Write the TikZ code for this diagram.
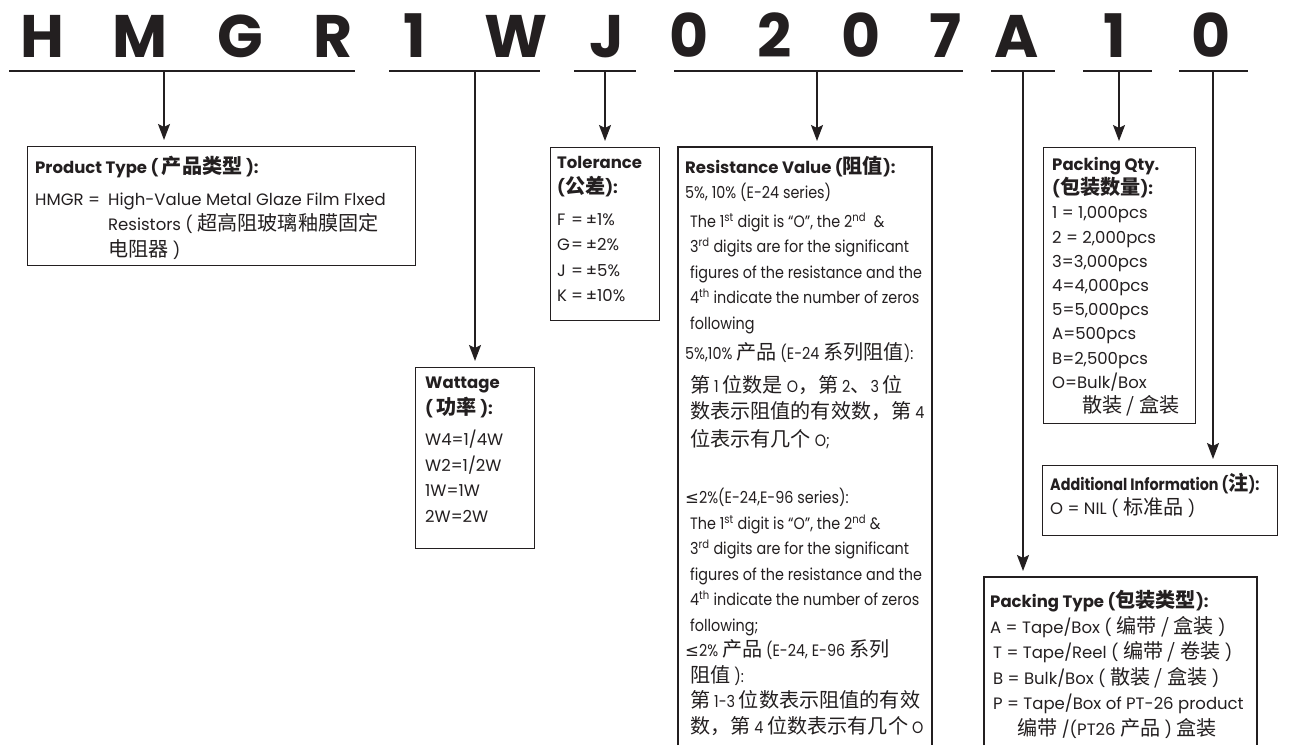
\documentclass[tikz,border=0pt]{standalone}
\usepackage{fontspec}
\usetikzlibrary{arrows.meta}
\setmainfont{Poppins}
\newfontfamily\narrow{Poppins}[FakeStretch=0.87]
\newfontfamily\cjk{Noto Sans CJK SC}[Scale=1.22]
\newfontfamily\sym{DejaVu Sans}
\definecolor{ink}{HTML}{231F20}
\newcommand{\zh}[1]{{\cjk #1}}
\newcommand{\sps}[1]{\textsuperscript{#1}}
\newcommand{\lbl}[1]{\makebox[14pt][l]{#1}}
\newcommand{\bodyfont}{\fontsize{16.5}{25.5}\selectfont}

\begin{document}
\begin{tikzpicture}[x=1pt,y=-1pt,
	code/.style={anchor=base,inner sep=0pt,text=ink,font=\fontsize{60}{60}\selectfont\bfseries},
	bar/.style={draw=ink,line width=2.2pt},
	lead/.style={draw=ink,line width=1.6pt,shorten >=6pt,-{Stealth[length=16pt,width=12pt,inset=3pt]}},
	infobox/.style={draw=ink,line width=1.2pt,anchor=north west,inner sep=0pt},
	txt/.style={anchor=north west,align=left,inner sep=0pt,text=ink,font=\bodyfont}]
			\fill[white] (0,0) rectangle (1289,745);
			\useasboundingbox (0,0) rectangle (1289,745);
			% part number
			\foreach \ch/\x [count=\i] in {H/42,M/140,G/240,R/333,1/415,W/516,J/607,0/689,2/775,0/861,7/946,A/1017,1/1115,0/1211}
				\node[code] (c\i) at (\x,57) {\ch};
			% underlines
			\draw[bar] (9,71) -- (355,71);
			\draw[bar] (389,71) -- (540,71);
			\draw[bar] (574,71) -- (636,71);
			\draw[bar] (674,71) -- (963,71);
			\draw[bar] (991,71) -- (1055,71);
			\draw[bar] (1083,71) -- (1152,71);
			\draw[bar] (1179,71) -- (1248,71);
			\coordinate (s1) at (164,71);
			\coordinate (s2) at (475,71);
			\coordinate (s3) at (605,71);
			\coordinate (s4) at (817,71);
			\coordinate (s5) at (1023,71);
			\coordinate (s6) at (1119,71);
			\coordinate (s7) at (1213,71);
			% product type
			\node[infobox,minimum width=388pt,minimum height=119pt] (prod) at (27,146) {};
			\node[txt] (prodtxt) at (35,156) {\textbf{Product Type ( \zh{产品类型} ):}\\[6pt]
				\makebox[73pt][l]{HMGR =}High-Value Metal Glaze Film Flxed\\
				\hspace*{73pt}Resistors ( \zh{超高阻玻璃釉膜固定}\\
				\hspace*{73pt}\zh{电阻器} )};
			\draw[lead] (s1) -- (s1 |- prod.north);
			% wattage
			\node[infobox,minimum width=119pt,minimum height=181pt] (watt) at (415,367) {};
			\node[txt] (watttxt) at (425,377) {\textbf{Wattage}\\ \textbf{( \zh{功率} ):}\\[6pt]
				W4=1/4W\\ W2=1/2W\\ 1W=1W\\ 2W=2W};
			\draw[lead] (s2) -- (s2 |- watt.north);
			% tolerance
			\node[infobox,minimum width=109pt,minimum height=173pt] (tol) at (550,147) {};
			\node[txt] (toltxt) at (557,156) {\textbf{Tolerance}\\ \textbf{(\zh{公差}):}\\[6pt]
				\lbl{F}=\,±1\%\\ \lbl{G}=\,±2\%\\ \lbl{J}=\,±5\%\\ \lbl{K}=\,±10\%};
			\draw[lead] (s3) -- (s3 |- tol.north);
			% resistance value (box runs off the page)
			\coordinate (res) at (678,147);
			\draw[ink,line width=1.2pt] (678,745) -- (res) -- (932,147) -- (932,745);
			\node[txt,font=\bodyfont\narrow] (restxt) at (685,156) {{\rmfamily\bfseries Resistance Value (\zh{阻值}):}\\
				5\%, 10\% (E-24 series)\\[3pt]
				\hspace*{5pt}The 1\sps{st} digit is “O”, the 2\sps{nd} \ \&\\
				\hspace*{5pt}3\sps{rd} digits are for the significant\\
				\hspace*{5pt}figures of the resistance and the\\
				\hspace*{5pt}4\sps{th} indicate the number of zeros\\
				\hspace*{5pt}following\\[5pt]
				5\%,10\% \zh{产品} (E-24 \zh{系列阻值}):\\[7pt]
				\hspace*{5pt}\zh{第} 1 \zh{位数是} O\zh{，第} 2\zh{、}3 \zh{位}\\[1pt]
				\hspace*{5pt}\zh{数表示阻值的有效数，第} 4\\[2pt]
				\hspace*{5pt}\zh{位表示有几个} O;\\[32pt]
				{\sym ≤}2\%(E-24,E-96 series):\\
				\hspace*{5pt}The 1\sps{st} digit is “O”, the 2\sps{nd} \&\\
				\hspace*{5pt}3\sps{rd} digits are for the significant\\
				\hspace*{5pt}figures of the resistance and the\\
				\hspace*{5pt}4\sps{th} indicate the number of zeros\\
				\hspace*{5pt}following;\\
				{\sym ≤}2\% \zh{产品} (E-24, E-96 \zh{系列}\\
				\hspace*{5pt}\zh{阻值} ):\\
				\hspace*{5pt}\zh{第} 1-3 \zh{位数表示阻值的有效}\\
				\hspace*{5pt}\zh{数，第} 4 \zh{位数表示有几个} O};
			\draw[lead] (s4) -- (s4 |- res);
			% packing type (box runs off the page)
			\coordinate (ptype) at (984,577);
			\draw[ink,line width=1.2pt] (984,745) -- (ptype) -- (1257,577) -- (1257,745);
			\node[txt] (ptypetxt) at (990,590) {\textbf{Packing Type (\zh{包装类型}):}\\
				A = Tape/Box ( \zh{编带 / 盒装} )\\
				\hspace*{3pt}T = Tape/Reel ( \zh{编带 / 卷装} )\\
				\hspace*{3pt}B = Bulk/Box ( \zh{散装 / 盒装} )\\
				\hspace*{3pt}P = Tape/Box of PT-26 product\\
				\hspace*{27pt}\zh{编带} /(PT26 \zh{产品} ) \zh{盒装}};
			\draw[lead] (s5) -- (s5 |- ptype);
			% packing qty
			\node[infobox,minimum width=152pt,minimum height=276pt] (qty) at (1043,147) {};
			\node[txt,font=\fontsize{16.5}{24.2}\selectfont] (qtytxt) at (1052,157) {\textbf{Packing Qty.}\\ \textbf{(\zh{包装数量}):}\\
				1 = 1,000pcs\\ 2 = 2,000pcs\\ 3=3,000pcs\\ 4=4,000pcs\\ 5=5,000pcs\\
				A=500pcs\\ B=2,500pcs\\ O=Bulk/Box\\ \hspace*{30pt}\zh{散装 / 盒装}};
			\draw[lead] (s6) -- (s6 |- qty.north);
			% additional information
			\node[infobox,minimum width=235pt,minimum height=70pt] (addl) at (1042,465) {};
			\node[txt,font=\fontsize{16.5}{24}\selectfont] (addltxt) at (1050,473) {{\narrow\bfseries Additional Information (\zh{注}):}\\
				O = NIL ( \zh{标准品} )};
			\draw[lead] (s7) -- (s7 |- addl.north);
\end{tikzpicture}
\end{document}
